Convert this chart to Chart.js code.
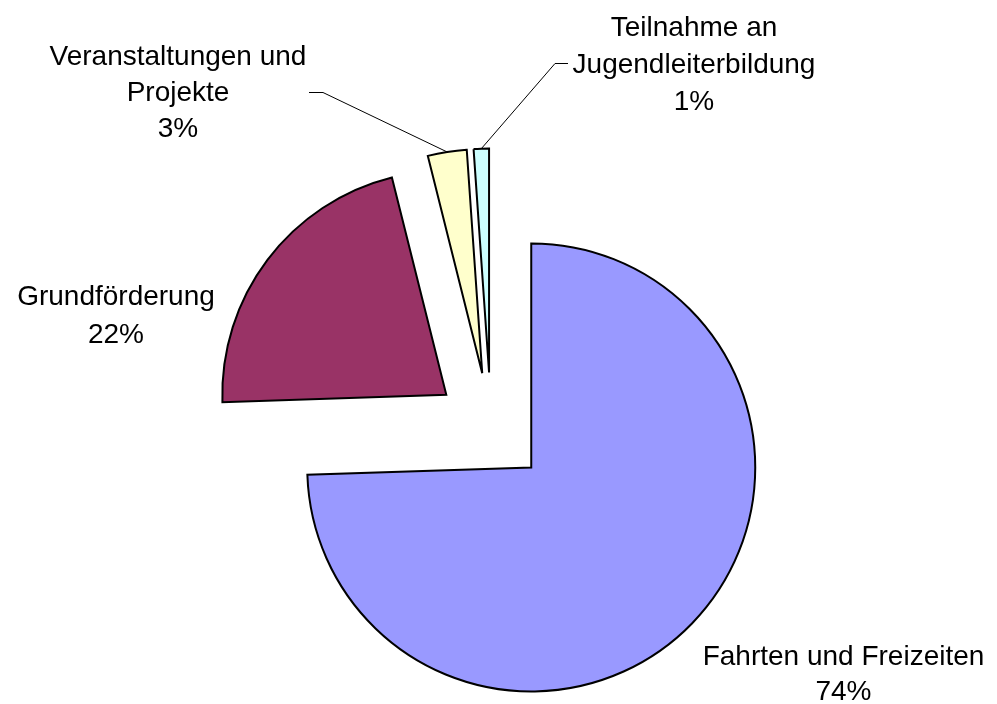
<!DOCTYPE html>
<html><head><meta charset="utf-8">
<script src="https://cdn.jsdelivr.net/npm/chart.js@4/dist/chart.umd.min.js"></script>
<style>html,body{margin:0;padding:0;background:#fff}#wrap{width:997px;height:704px;position:relative}</style>
</head><body><div id="wrap"><canvas id="c"></canvas></div>
<script>
// ---- data ----
const categories = [
  ['Fahrten und Freizeiten'],
  ['Grundförderung'],
  ['Veranstaltungen und', 'Projekte'],
  ['Teilnahme an', 'Jugendleiterbildung']
];
const values = [74.4, 21.6, 2.8, 1.1];
const colors = ['#9999FF', '#993366', '#FFFFCC', '#CCFFFF'];

// ---- style / layout ----
const EXPLODE = 56;
const FONT = '28px "Liberation Sans", Arial, sans-serif';
const labelLayout = [
  {x: 843.5, y: 665, lh: 35, leader: null},
  {x: 116, y: 305, lh: 38, leader: null},
  {x: 178, y: 65, lh: 36, leader: [[309, 92.5], [323, 92.5]]},
  {x: 694, y: 36, lh: 37, leader: [[568, 63.5], [555, 63.5]]}
];

const explodePlugin = {
  id: 'explode',
  beforeDatasetDraw(chart, args) {
    const ctx = chart.ctx;
    args.meta.data.forEach(el => {
      const mid = (el.startAngle + el.endAngle) / 2;
      ctx.save();
      ctx.translate(Math.cos(mid) * EXPLODE, Math.sin(mid) * EXPLODE);
      el.draw(ctx);
      ctx.restore();
    });
    return false;
  }
};

const labelPlugin = {
  id: 'sliceLabels',
  afterDatasetsDraw(chart) {
    const ctx = chart.ctx;
    const meta = chart.getDatasetMeta(0);
    const total = values.reduce((a, b) => a + b, 0);
    ctx.save();
    ctx.font = FONT;
    ctx.fillStyle = '#000';
    ctx.textAlign = 'center';
    ctx.textBaseline = 'alphabetic';
    meta.data.forEach((el, i) => {
      const L = labelLayout[i];
      if (L.leader) {
        const mid = (el.startAngle + el.endAngle) / 2;
        const r = el.outerRadius + EXPLODE;
        const ex = el.x + Math.cos(mid) * r, ey = el.y + Math.sin(mid) * r;
        ctx.beginPath();
        ctx.moveTo(L.leader[0][0], L.leader[0][1]);
        ctx.lineTo(L.leader[1][0], L.leader[1][1]);
        ctx.lineTo(ex, ey);
        ctx.strokeStyle = '#000';
        ctx.lineWidth = 1;
        ctx.stroke();
      }
      const lines = [...chart.data.labels[i], Math.round(values[i] / total * 100) + '%'];
      lines.forEach((t, k) => ctx.fillText(t, L.x, L.y + k * L.lh));
    });
    ctx.restore();
  }
};

new Chart(document.getElementById('c'), {
  type: 'pie',
  data: {
    labels: categories,
    datasets: [{
      data: values,
      backgroundColor: colors,
      borderColor: '#000',
      borderWidth: 2,
      borderJoinStyle: 'miter'
    }]
  },
  options: {
    responsive: true,
    maintainAspectRatio: false,
    animation: false,
    events: [],
    radius: 224,
    layout: {padding: {left: 0, right: 15, top: 153, bottom: 0}},
    plugins: {legend: {display: false}, tooltip: {enabled: false}}
  },
  plugins: [explodePlugin, labelPlugin]
});
</script>
</body></html>
